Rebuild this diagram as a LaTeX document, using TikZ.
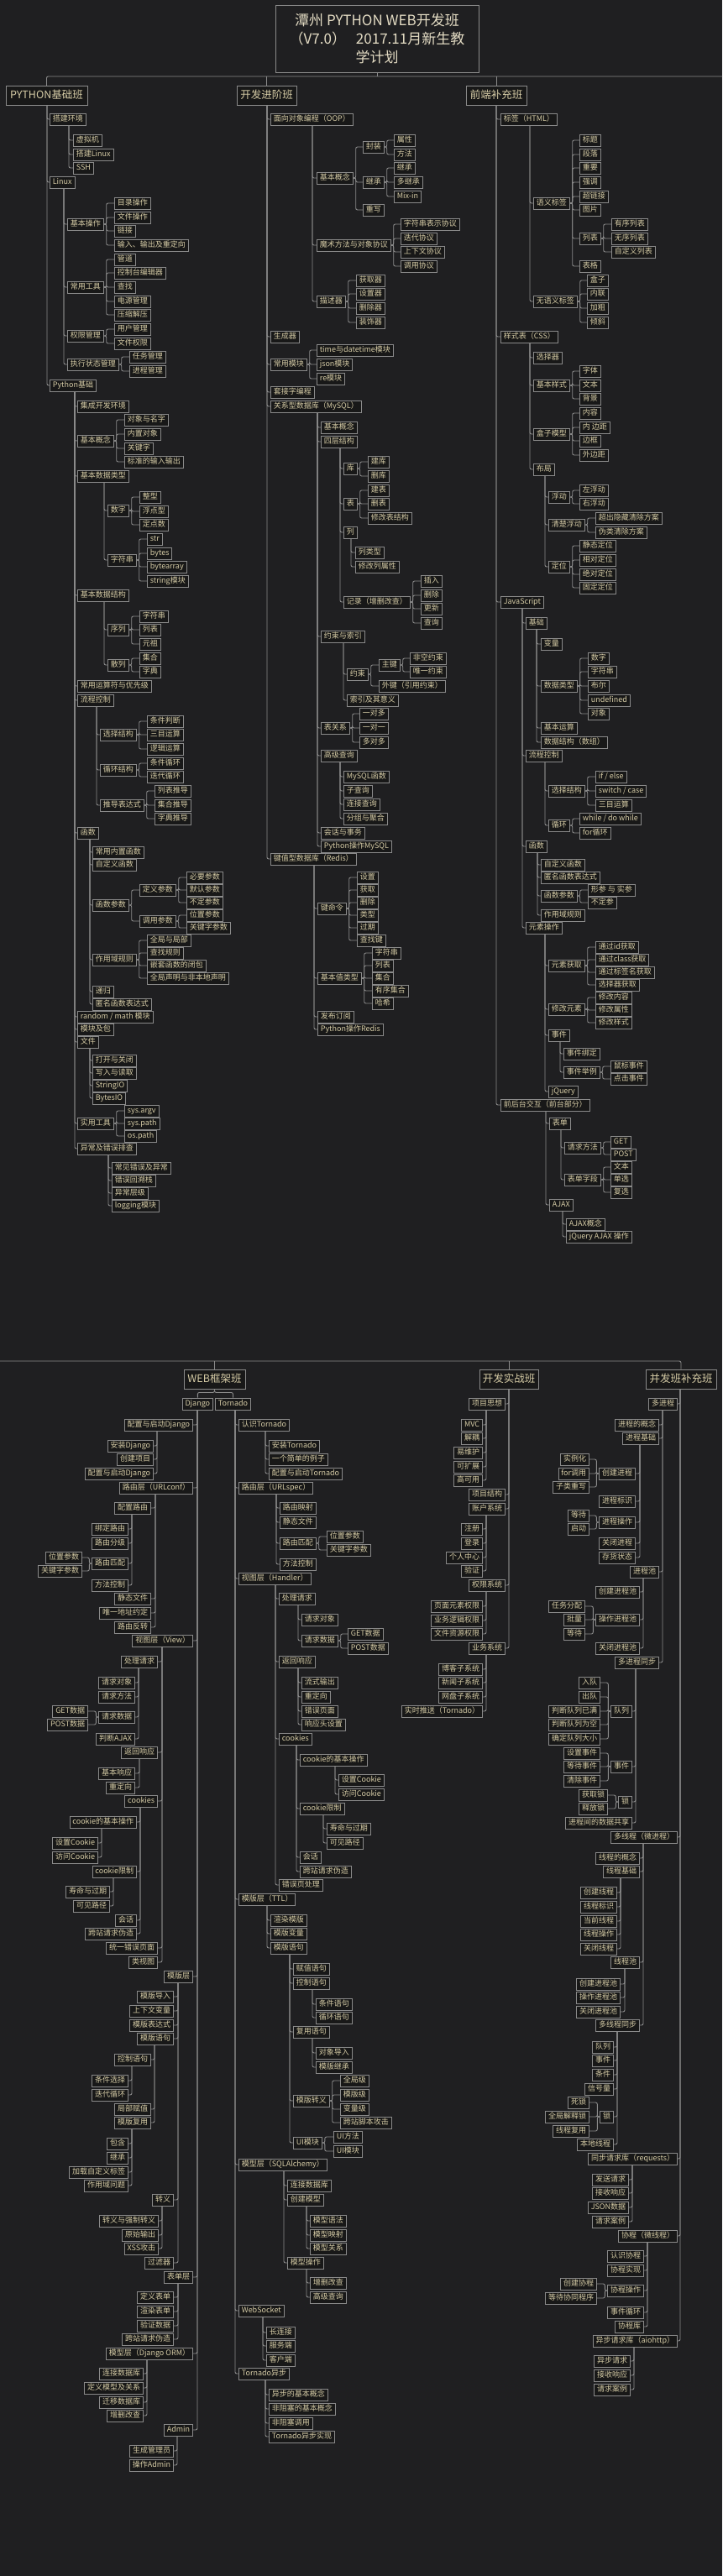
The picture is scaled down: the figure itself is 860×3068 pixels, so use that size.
\documentclass[tikz,border=0pt]{standalone}
\usepackage{fontspec}
\setmainfont{Noto Sans CJK SC}
\definecolor{bgc}{HTML}{1F1F21}
\definecolor{bxf}{HTML}{181818}
\definecolor{bxd}{HTML}{8A8A8A}
\definecolor{txc}{HTML}{D6CCA6}
\definecolor{ttc}{HTML}{E4DCC4}
\definecolor{lnc}{HTML}{8C8C8C}
\tikzset{
  bx/.style={draw=bxd, fill=bxf, text=txc, font=\fontsize{9}{10}\selectfont, inner xsep=3.4pt, inner ysep=0pt, minimum height=14pt, text height=6.9pt, text depth=1.9pt, line width=0.9pt},
  hd/.style={bx, font=\fontsize{12.5}{14}\selectfont, minimum height=23pt, text height=9.5pt, text depth=2.5pt},
  ttl/.style={draw=bxd, line width=0.9pt, text=ttc, font=\fontsize{17}{22}\selectfont, align=center, minimum width=242pt, minimum height=80pt},
  ln/.style={draw=lnc, line width=0.9pt, rounded corners=2pt}
}
% children right of a vertical line that leaves the parent's bottom
\newcommand\kidR[4]{\foreach \nn/\yy/\tx in {#4} {\node[bx,anchor=west] (\nn) at (#3,\yy) {\tx}; \draw[ln] (#1.south -| #2,0) |- (\nn.west);}}
% children left of a vertical line that leaves the parent's bottom
\newcommand\kidL[4]{\foreach \nn/\yy/\tx in {#4} {\node[bx,anchor=east] (\nn) at (#3,\yy) {\tx}; \draw[ln] (#1.south -| #2,0) |- (\nn.east);}}
% bracket to the right of the parent
\newcommand\kidB[3]{\foreach \nn/\yy/\tx in {#3} {\node[bx,anchor=west] (\nn) at (#2,\yy) {\tx}; \draw[ln] (#1.east) -- ++(3,0) |- (\nn.west);}}
% bracket to the left of the parent
\newcommand\kidBL[3]{\foreach \nn/\yy/\tx in {#3} {\node[bx,anchor=east] (\nn) at (#2,\yy) {\tx}; \draw[ln] (#1.west) -- ++(-3,0) |- (\nn.east);}}
\begin{document}
\begin{tikzpicture}[x=1pt,y=-1pt]
\useasboundingbox (0,0) rectangle (860,3068);
\fill[bgc] (0,0) rectangle (860,3068);

% ---------- top half ----------
\node[ttl] (T) at (449,46) {潭州 PYTHON WEB开发班\\（V7.0）\hspace{0.7em}2017.11月新生教\\学计划};
\node[hd,minimum width=97pt] (H1) at (55.5,114) {PYTHON基础班};
\node[hd,minimum width=71pt] (H2) at (317.5,114) {开发进阶班};
\node[hd,minimum width=72pt] (H3) at (591,114) {前端补充班};
\coordinate (tbR) at (860,91);
\draw[ln] (H1.north) |- (tbR);
\draw[ln] (H2.north) -- (H2.north |- tbR);
\draw[ln] (H3.north) -- (H3.north |- tbR);
\draw[ln] (T.south) -- (T.south |- tbR);

% PYTHON基础班
\kidR{H1}{56}{59}{a1/142/搭建环境, a2/217/Linux, a3/459/Python基础}
\kidR{a1}{82}{87}{a11/167/虚拟机, a12/184/搭建Linux, a13/200/SSH}
\kidR{a2}{76}{80}{a21/267/基本操作, a22/342/常用工具, a23/400/权限管理, a24/434/执行状态管理}
\kidB{a21}{136}{a211/242/目录操作, a212/259/文件操作, a213/275/链接, a214/292/输入、输出及重定向}
\kidB{a22}{136}{a221/309/管道, a222/325/控制台编辑器, a223/342/查找, a224/359/电源管理, a225/375/压缩解压}
\kidB{a23}{136}{a231/392/用户管理, a232/409/文件权限}
\kidB{a24}{154}{a241/425/任务管理, a242/442/进程管理}
\kidR{a3}{89}{92}{b1/484/集成开发环境, b2/525/基本概念, b3/567/基本数据类型, b4/709/基本数据结构, b5/817/常用运算符与优先级, b6/834/流程控制, b7/992/函数, b8/1211/random {/} math 模块, b9/1226/模块及包, b10/1241/文件, b11/1338/实用工具, b12/1368/异常及错误排查}
\kidB{b2}{148}{b21/500/对象与名字, b22/517/内置对象, b23/534/关键字, b24/550/标准的输入输出}
\kidR{b3}{124}{128}{b31/608/数字, b32/667/字符串}
\kidB{b31}{166}{b311/592/整型, b312/609/浮点型, b313/625/定点数}
\kidB{b32}{175}{b321/642/str, b322/659/bytes, b323/675/bytearray, b324/692/string模块}
\kidR{b4}{124}{128}{b41/750/序列, b42/792/散列}
\kidB{b41}{166}{b411/734/字符串, b412/750/列表, b413/767/元祖}
\kidB{b42}{166}{b421/784/集合, b422/800/字典}
\kidR{b6}{115}{119}{b61/875/选择结构, b62/917/循环结构, b63/959/推导表达式}
\kidB{b61}{175}{b611/859/条件判断, b612/875/三目运算, b613/892/逻辑运算}
\kidB{b62}{175}{b621/909/条件循环, b622/925/迭代循环}
\kidB{b63}{184}{b631/942/列表推导, b632/959/集合推导, b633/975/字典推导}
\kidR{b7}{107}{110}{b71/1015/常用内置函数, b72/1030/自定义函数, b73/1078/函数参数, b74/1143/作用域规则, b75/1181/递归, b76/1196/匿名函数表达式}
\kidB{b73}{166}{b731/1060/定义参数, b732/1097/调用参数}
\kidB{b731}{222}{b7311/1045/必要参数, b7312/1060/默认参数, b7313/1075/不定参数}
\kidB{b732}{222}{b7321/1090/位置参数, b7322/1105/关键字参数}
\kidB{b74}{175}{b741/1120/全局与局部, b742/1135/查找规则, b743/1150/嵌套函数的闭包, b744/1165/全局声明与非本地声明}
\kidR{b10}{107}{110}{b101/1263/打开与关闭, b102/1278/写入与读取, b103/1293/StringIO, b104/1308/BytesIO}
\kidB{b11}{148}{b111/1323/sys.argv, b112/1338/sys.path, b113/1353/os.path}
\kidR{b12}{129}{133}{b121/1391/常见错误及异常, b122/1406/错误回溯栈, b123/1421/异常层级, b124/1436/logging模块}

% 开发进阶班
\kidR{H2}{318}{322}{c1/142/面向对象编程（OOP）, c2/401/生成器, c3/434/常用模块, c4/467/套接字编程, c5/484/关系型数据库（MySQL）, c6/1023/键值型数据库（Redis）}
\kidR{c1}{372}{377}{c11/212/基本概念, c12/292/魔术方法与对象协议, c13/359/描述器}
\kidB{c11}{432}{c111/175/封装, c112/217/继承, c113/250/重写}
\kidB{c111}{469}{c1111/167/属性, c1112/184/方法}
\kidB{c112}{469}{c1121/200/继承, c1122/217/多继承, c1123/234/Mix-in}
\kidB{c12}{477}{c121/267/字符串表示协议, c122/284/迭代协议, c123/300/上下文协议, c124/317/调用协议}
\kidB{c13}{424}{c131/334/获取器, c132/350/设置器, c133/367/删除器, c134/384/装饰器}
\kidB{c3}{377}{c31/417/time与datetime模块, c32/434/json模块, c33/451/re模块}
\kidR{c5}{378}{382}{c51/509/基本概念, c52/526/四层结构, c53/758/约束与索引, c54/867/表关系, c55/900/高级查询, c56/992/会话与事务, c57/1008/Python操作MySQL}
\kidR{c52}{405}{409}{c521/558/库, c522/600/表, c523/634/列, c524/717/记录（增删改查）}
\kidB{c521}{438}{c5211/550/建库, c5212/567/删库}
\kidB{c522}{438}{c5221/584/建表, c5222/600/删表, c5223/617/修改表结构}
\kidR{c523}{418}{423}{c5231/658/列类型, c5232/675/修改列属性}
\kidB{c524}{501}{c5241/692/插入, c5242/709/删除, c5243/725/更新, c5244/742/查询}
\kidR{c53}{409}{413}{c531/803/约束, c532/834/索引及其意义}
\kidB{c531}{451}{c5311/792/主键, c5312/817/外键（引用约束）}
\kidB{c5311}{488}{c53111/784/非空约束, c53112/800/唯一约束}
\kidB{c54}{428}{c541/850/一对多, c542/867/一对一, c543/884/多对多}
\kidR{c55}{405}{409}{c551/925/MySQL函数, c552/942/子查询, c553/958/连接查询, c554/975/分组与聚合}
\kidR{c6}{374}{378}{c61/1082/键命令, c62/1165/基本值类型, c63/1211/发布订阅, c64/1226/Python操作Redis}
\kidB{c61}{425}{c611/1045/设置, c612/1060/获取, c613/1075/删除, c614/1090/类型, c615/1105/过期, c616/1120/查找键}
\kidB{c62}{443}{c621/1135/字符串, c622/1150/列表, c623/1165/集合, c624/1180/有序集合, c625/1195/哈希}

% 前端补充班
\kidR{H3}{591}{596}{d1/142/标签（HTML）, d2/401/样式表（CSS）, d3/717/JavaScript, d4/1316/前后台交互（前台部分）}
\kidR{d1}{631}{635}{d11/242/语义标签, d12/359/无语义标签}
\kidB{d11}{690}{d111/167/标题, d112/184/段落, d113/200/重要, d114/217/强调, d115/234/超链接, d116/250/图片, d117/284/列表, d118/317/表格}
\kidB{d117}{728}{d1171/267/有序列表, d1172/284/无序列表, d1173/300/自定义列表}
\kidB{d12}{699}{d121/334/盒子, d122/350/内联, d123/367/加粗, d124/384/倾斜}
\kidR{d2}{631}{635}{d21/426/选择器, d22/459/基本样式, d23/517/盒子模型, d24/559/布局}
\kidB{d22}{690}{d221/442/字体, d222/459/文本, d223/475/背景}
\kidB{d23}{690}{d231/492/内容, d232/509/内 边距, d233/525/边框, d234/542/外边距}
\kidR{d24}{649}{653}{d241/592/浮动, d242/625/清楚浮动, d243/675/定位}
\kidB{d241}{690}{d2411/584/左浮动, d2412/600/右浮动}
\kidB{d242}{709}{d2421/617/超出隐藏清除方案, d2422/634/伪类清除方案}
\kidB{d243}{690}{d2431/650/静态定位, d2432/667/相对定位, d2433/684/绝对定位, d2434/700/固定定位}
\kidR{d3}{622}{626}{d31/742/基础, d32/900/流程控制, d33/1008/函数, d34/1105/元素操作}
\kidR{d31}{639}{644}{d311/767/变量, d312/817/数据类型, d313/867/基本运算, d314/884/数据结构（数组）}
\kidB{d312}{700}{d3121/784/数字, d3122/800/字符串, d3123/817/布尔, d3124/834/undefined, d3125/850/对象}
\kidR{d32}{649}{653}{d321/942/选择结构, d322/983/循环}
\kidB{d321}{709}{d3211/925/if {/} else, d3212/942/switch {/} case, d3213/959/三目运算}
\kidB{d322}{690}{d3221/975/while {/} do while, d3222/992/for循环}
\kidR{d33}{640}{644}{d331/1030/自定义函数, d332/1045/匿名函数表达式, d333/1067/函数参数, d334/1090/作用域规则}
\kidB{d333}{700}{d3331/1060/形参 与 实参, d3332/1075/不定参}
\kidR{d34}{649}{653}{d341/1150/元素获取, d342/1202/修改元素, d343/1233/事件, d344/1300/jQuery}
\kidB{d341}{709}{d3411/1128/通过id获取, d3412/1143/通过class获取, d3413/1158/通过标签名获取, d3414/1173/选择器获取}
\kidB{d342}{709}{d3421/1188/修改内容, d3422/1203/修改属性, d3423/1218/修改样式}
\kidR{d343}{667}{671}{d3431/1255/事件绑定, d3432/1277/事件举例}
\kidB{d3432}{727}{d34321/1270/鼠标事件, d34322/1285/点击事件}
\kidR{d4}{650}{654}{d41/1338/表单, d42/1435/AJAX}
\kidR{d41}{668}{672}{d411/1367/请求方法, d412/1405/表单字段}
\kidB{d411}{727}{d4111/1360/GET, d4112/1375/POST}
\kidB{d412}{727}{d4121/1390/文本, d4122/1405/单选, d4123/1420/复选}
\kidR{d42}{670}{674}{d421/1458/AJAX概念, d422/1473/jQuery AJAX 操作}

% ---------- bottom half ----------
\node[hd,minimum width=73pt] (G1) at (255.5,1642.5) {WEB框架班};
\node[hd,minimum width=70pt] (G2) at (606,1642.5) {开发实战班};
\node[hd,minimum width=84pt] (G3) at (811,1642.5) {并发班补充班};
\coordinate (bbL) at (0,1621);
\draw[ln] (G3.north) |- (bbL);
\draw[ln] (G1.north) -- (G1.north |- bbL);
\draw[ln] (G2.north) -- (G2.north |- bbL);
\node[bx,anchor=east] (Dj) at (254,1672) {Django};
\node[bx,anchor=west] (Tn) at (256,1672) {Tornado};
\draw[ln] (G1.south) -- ++(0,4) -| (Dj.north);
\draw[ln] (G1.south) -- ++(0,4) -| (Tn.north);

% Django
\kidL{Dj}{235}{230}{e1/1697/配置与启动Django, e2/1772/路由层（URLconf）, e3/1954/视图层（View）, e4/2354/模版层, e5/2712/表单层, e6/2803/模型层（Django ORM）, e7/2894/Admin}
\kidL{e1}{187}{183}{e11/1722/安装Django, e12/1738/创建项目, e13/1755/配置与启动Django}
\kidL{e2}{185}{180}{e21/1796/配置路由, e22/1904/静态文件, e23/1921/唯一地址约定, e24/1938/路由反转}
\kidL{e21}{157}{153}{e211/1821/绑定路由, e212/1838/路由分级, e213/1862/路由匹配, e214/1888/方法控制}
\kidBL{e213}{98}{e2131/1855/位置参数, e2132/1871/关键字参数}
\kidL{e3}{193}{188}{e31/1979/处理请求, e32/2087/返回响应, e33/2145/cookies, e34/2320/统一错误页面, e35/2337/类视图}
\kidL{e31}{165}{161}{e311/2004/请求对象, e312/2021/请求方法, e313/2045/请求数据, e314/2071/判断AJAX}
\kidBL{e313}{105}{e3131/2038/GET数据, e3132/2054/POST数据}
\kidL{e32}{166}{161}{e321/2112/基本响应, e322/2129/重定向}
\kidL{e33}{167}{163}{e331/2170/cookie的基本操作, e332/2229/cookie限制, e333/2287/会话, e334/2303/跨站请求伪造}
\kidL{e331}{121}{117}{e3311/2195/设置Cookie, e3312/2212/访问Cookie}
\kidL{e332}{135}{131}{e3321/2253/寿命与过期, e3322/2270/可见路径}
\kidL{e4}{212}{207}{e41/2378/模版导入, e42/2395/上下文变量, e43/2412/模版表达式, e44/2428/模版语句, e45/2620/转义, e46/2695/过滤器}
\kidL{e44}{184}{180}{e441/2453/控制语句, e442/2512/局部赋值, e443/2528/模版复用}
\kidL{e441}{157}{153}{e4411/2478/条件选择, e4412/2495/迭代循环}
\kidL{e443}{157}{153}{e4431/2553/包含, e4432/2570/继承, e4433/2587/加载自定义标签, e4434/2603/作用域问题}
\kidL{e45}{193}{189}{e451/2645/转义与强制转义, e452/2662/原始输出, e453/2678/XSS攻击}
\kidL{e5}{212}{207}{e51/2736/定义表单, e52/2753/渲染表单, e53/2770/验证数据, e54/2786/跨站请求伪造}
\kidL{e6}{175}{171}{e61/2827/连接数据库, e62/2844/定义模型及关系, e63/2861/迁移数据库, e64/2877/增删改查}
\kidL{e7}{211}{207}{e71/2919/生成管理员, e72/2936/操作Admin}

% Tornado
\kidR{Tn}{280}{284}{f1/1697/认识Tornado, f2/1772/路由层（URLspec）, f3/1880/视图层（Handler）, f4/2262/模版层（TTL）, f5/2578/模型层（SQLAlchemy）, f6/2752/WebSocket, f7/2827/Tornado异步}
\kidR{f1}{316}{320}{f11/1722/安装Tornado, f12/1738/一个简单的例子, f13/1755/配置与启动Tornado}
\kidR{f2}{329}{333}{f21/1796/路由映射, f22/1813/静态文件, f23/1838/路由匹配, f24/1863/方法控制}
\kidB{f23}{389}{f231/1830/位置参数, f232/1846/关键字参数}
\kidR{f3}{328}{332}{f31/1904/处理请求, f32/1979/返回响应, f33/2071/cookies, f34/2245/错误页处理}
\kidR{f31}{355}{359}{f311/1929/请求对象, f312/1954/请求数据}
\kidB{f312}{414}{f3121/1946/GET数据, f3122/1963/POST数据}
\kidR{f32}{355}{359}{f321/2004/流式输出, f322/2021/重定向, f323/2038/错误页面, f324/2054/响应头设置}
\kidR{f33}{353}{357}{f331/2096/cookie的基本操作, f332/2154/cookie限制, f333/2212/会话, f334/2229/跨站请求伪造}
\kidR{f331}{399}{403}{f3311/2120/设置Cookie, f3312/2137/访问Cookie}
\kidR{f332}{385}{389}{f3321/2178/寿命与过期, f3322/2195/可见路径}
\kidR{f4}{318}{322}{f41/2287/渲染模版, f42/2303/模版变量, f43/2320/模版语句}
\kidR{f43}{345}{349}{f431/2345/赋值语句, f432/2362/控制语句, f433/2420/复用语句, f434/2502/模版转义, f435/2552/UI模块}
\kidR{f432}{372}{376}{f4321/2387/条件语句, f4322/2403/循环语句}
\kidR{f433}{372}{376}{f4331/2445/对象导入, f4332/2462/模版继承}
\kidB{f434}{405}{f4341/2478/全局级, f4342/2495/模版级, f4343/2512/变量级, f4344/2528/跨站脚本攻击}
\kidB{f435}{397}{f4351/2545/UI方法, f4352/2562/UI模块}
\kidR{f5}{338}{342}{f51/2603/连接数据库, f52/2620/创建模型, f53/2695/模型操作}
\kidR{f52}{365}{369}{f521/2645/模型语法, f522/2662/模型映射, f523/2678/模型关系}
\kidR{f53}{365}{369}{f531/2719/增删改查, f532/2736/高级查询}
\kidR{f6}{313}{317}{f61/2778/长连接, f62/2794/服务端, f63/2811/客户端}
\kidR{f7}{316}{320}{f71/2852/异步的基本概念, f72/2869/非阻塞的基本概念, f73/2886/非阻塞调用, f74/2902/Tornado异步实现}

% 开发实战班
\kidL{G2}{606}{602}{g1/1672/项目思想, g2/1780/项目结构, g3/1797/账户系统, g4/1888/权限系统, g5/1963/业务系统}
\kidL{g1}{579}{575}{g11/1697/MVC, g12/1713/解耦, g13/1730/易维护, g14/1747/可扩展, g15/1763/高可用}
\kidL{g3}{579}{575}{g31/1821/注册, g32/1838/登录, g33/1855/个人中心, g34/1871/验证}
\kidL{g4}{579}{575}{g41/1913/页面元素权限, g42/1930/业务逻辑权限, g43/1946/文件资源权限}
\kidL{g5}{579}{575}{g51/1988/博客子系统, g52/2004/新闻子系统, g53/2021/网盘子系统, g54/2038/实时推送（Tornado）}

% 并发班补充班
\kidL{G3}{810}{807}{h1/1672/多进程, h2/2188/多线程（微进程）, h3/2571/同步请求库（requests）, h4/2663/协程（微线程）, h5/2788/异步请求库（aiohttp）}
\kidL{h1}{789}{785}{h11/1697/进程的概念, h12/1713/进程基础, h13/1872/进程池, h14/1980/多进程同步}
\kidL{h12}{762}{757}{h121/1755/创建进程, h122/1788/进程标识, h123/1813/进程操作, h124/1838/关闭进程, h125/1855/存货状态}
\kidBL{h121}{702}{h1211/1738/实例化, h1212/1755/for调用, h1213/1771/子类重写}
\kidBL{h123}{702}{h1231/1805/等待, h1232/1821/启动}
\kidL{h13}{766}{762}{h131/1896/创建进程池, h132/1929/操作进程池, h133/1963/关闭进程池}
\kidBL{h132}{697}{h1321/1913/任务分配, h1322/1929/批量, h1323/1946/等待}
\kidL{h14}{757}{753}{h141/2038/队列, h142/2104/事件, h143/2146/锁, h144/2171/进程间的数据共享}
\kidBL{h141}{715}{h1411/2004/入队, h1412/2021/出队, h1413/2038/判断队列已满, h1414/2054/判断队列为空, h1415/2071/确定队列大小}
\kidBL{h142}{715}{h1421/2088/设置事件, h1422/2104/等待事件, h1423/2121/清除事件}
\kidBL{h143}{724}{h1431/2138/获取锁, h1432/2154/释放锁}
\kidL{h2}{766}{762}{h21/2213/线程的概念, h22/2229/线程基础, h23/2337/线程池, h24/2412/多线程同步}
\kidL{h22}{739}{735}{h221/2254/创建线程, h222/2271/线程标识, h223/2288/当前线程, h224/2304/线程操作, h225/2321/关闭线程}
\kidL{h23}{744}{739}{h231/2363/创建进程池, h232/2379/操作进程池, h233/2396/关闭进程池}
\kidL{h24}{735}{731}{h241/2438/队列, h242/2454/事件, h243/2471/条件, h244/2488/信号量, h245/2521/锁, h246/2554/本地线程}
\kidBL{h245}{702}{h2451/2504/死锁, h2452/2521/全局解释锁, h2453/2538/线程复用}
\kidL{h3}{753}{749}{h31/2596/发送请求, h32/2612/接收响应, h33/2629/JSON数据, h34/2646/请求案例}
\kidL{h4}{771}{767}{h41/2687/认识协程, h42/2704/协程实现, h43/2728/协程操作, h44/2754/事件循环, h45/2771/协程库}
\kidBL{h43}{711}{h431/2720/创建协程, h432/2737/等待协同程序}
\kidL{h5}{755}{751}{h51/2812/异步请求, h52/2829/接收响应, h53/2846/请求案例}
\end{tikzpicture}
\end{document}
